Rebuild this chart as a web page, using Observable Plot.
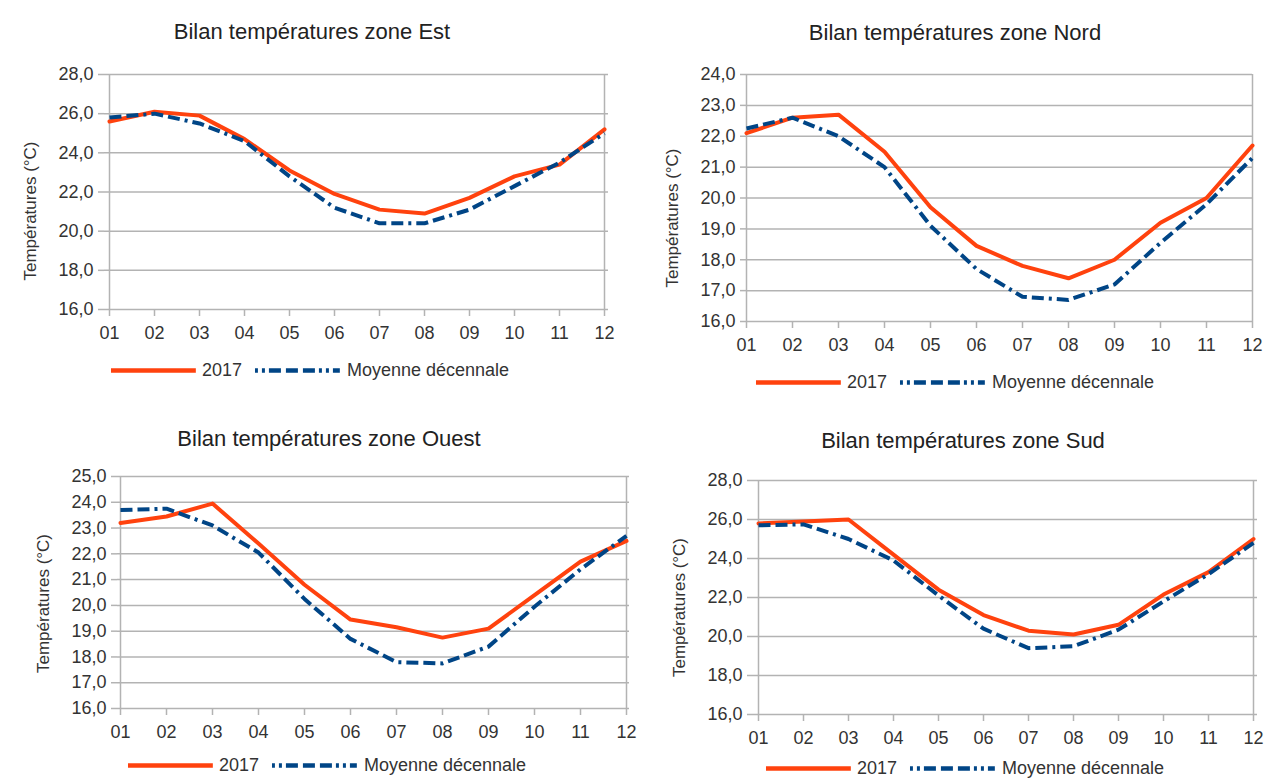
<!DOCTYPE html>
<html lang="fr">
<head>
<meta charset="utf-8">
<script src="https://cdn.jsdelivr.net/npm/d3@7"></script>
<script src="https://cdn.jsdelivr.net/npm/@observablehq/plot@0.6"></script>
<style>
  html, body { margin: 0; padding: 0; background: #fff; }
  #page { position: relative; width: 1276px; height: 778px; overflow: hidden; font-family: "Liberation Sans", Arial, sans-serif; }
  .title { position: absolute; transform: translate(-50%, -50%); font-size: 22px; color: #222; white-space: nowrap; }
  .legend { position: absolute; transform: translate(-50%, -50%); display: flex; align-items: center; font-size: 18px; color: #333; white-space: nowrap; }
  .legend svg { display: block; }
  .panel { position: absolute; }
</style>
</head>
<body>
<div id="page"></div>
<script>
// ---- data ----
const months = ["01","02","03","04","05","06","07","08","09","10","11","12"];
const seriesNames = ["2017", "Moyenne décennale"];

const est2017 = [25.6, 26.1, 25.9, 24.7, 23.1, 21.9, 21.1, 20.9, 21.7, 22.8, 23.4, 25.2];
const estMoy  = [25.8, 26.0, 25.5, 24.6, 22.8, 21.2, 20.4, 20.4, 21.1, 22.3, 23.5, 25.0];
const estTicks = [16, 18, 20, 22, 24, 26, 28];

const nord2017 = [22.1, 22.6, 22.7, 21.5, 19.7, 18.45, 17.8, 17.4, 18.0, 19.2, 20.0, 21.7];
const nordMoy  = [22.25, 22.6, 22.0, 21.0, 19.1, 17.7, 16.8, 16.7, 17.2, 18.55, 19.8, 21.3];
const nordTicks = [16, 17, 18, 19, 20, 21, 22, 23, 24];

const ouest2017 = [23.2, 23.45, 23.95, 22.4, 20.8, 19.45, 19.15, 18.75, 19.1, 20.4, 21.7, 22.5];
const ouestMoy  = [23.7, 23.75, 23.1, 22.05, 20.25, 18.7, 17.8, 17.75, 18.4, 19.95, 21.4, 22.7];
const ouestTicks = [16, 17, 18, 19, 20, 21, 22, 23, 24, 25];

const sud2017 = [25.8, 25.9, 26.0, 24.2, 22.4, 21.1, 20.3, 20.1, 20.6, 22.15, 23.3, 25.0];
const sudMoy  = [25.7, 25.75, 25.0, 23.9, 22.1, 20.4, 19.4, 19.5, 20.35, 21.8, 23.2, 24.8];
const sudTicks = [16, 18, 20, 22, 24, 26, 28];

const titles = ["Bilan températures zone Est", "Bilan températures zone Nord", "Bilan températures zone Ouest", "Bilan températures zone Sud"];
const yLabel = "Températures (°C)";

// ---- styles ----
const RED = "#ff420e";
const BLUE = "#004586";
const GRID = "#b3b3b3";
const LINE_DASH = "12,5,12,5,3,5";
const LEGEND_DASH = "3,4,3,4,12,5,12,5,12,4";
const fmt = d => d.toFixed(1).replace(".", ",");

const page = document.getElementById("page");

function panel(cfg) {
  const rows = months.map((m, i) => ({m, a: cfg.s2017[i], b: cfg.moy[i]}));
  const chart = Plot.plot({
    width: cfg.width,
    height: cfg.height,
    marginLeft: cfg.x0 - cfg.left,
    marginRight: cfg.left + cfg.width - cfg.x1,
    marginTop: cfg.yTop - cfg.top,
    marginBottom: cfg.top + cfg.height - cfg.yBot,
    style: {fontFamily: "'Liberation Sans', Arial, sans-serif", fontSize: "18px", color: "#333", background: "transparent", overflow: "visible"},
    x: {type: "point", domain: months, padding: 0},
    y: {domain: [cfg.ticks[0], cfg.ticks[cfg.ticks.length - 1]]},
    marks: [
      Plot.ruleY(cfg.ticks, {stroke: GRID, strokeWidth: 1.5}),
      Plot.ruleX([months[0], months[months.length - 1]], {stroke: GRID, strokeWidth: 1.5}),
      Plot.axisY(cfg.ticks, {tickSize: 6, tickPadding: 5, tickFormat: fmt, stroke: GRID, strokeWidth: 1.5, label: null, fontSize: 18}),
      Plot.axisX({tickSize: 7, tickPadding: 10, stroke: GRID, strokeWidth: 1.5, label: null, fontSize: 18}),
      Plot.text([yLabel], {frameAnchor: "left", textAnchor: "middle", rotate: -90, dx: -74, dy: cfg.labelDy, fontSize: 17, fill: "#333"}),
      Plot.line(rows, {x: "m", y: "a", stroke: RED, strokeWidth: 4, strokeLinejoin: "round"}),
      Plot.line(rows, {x: "m", y: "b", stroke: BLUE, strokeWidth: 4, strokeDasharray: LINE_DASH, strokeLinecap: "butt", strokeLinejoin: "round"})
    ]
  });
  const wrap = document.createElement("div");
  wrap.className = "panel";
  wrap.style.left = cfg.left + "px";
  wrap.style.top = cfg.top + "px";
  wrap.appendChild(chart);
  page.appendChild(wrap);

  const t = document.createElement("div");
  t.className = "title";
  t.textContent = cfg.title;
  t.style.left = cfg.tx + "px";
  t.style.top = cfg.ty + "px";
  page.appendChild(t);

  const lg = document.createElement("div");
  lg.className = "legend";
  lg.style.left = cfg.lx + "px";
  lg.style.top = cfg.ly + "px";
  lg.innerHTML =
    `<svg width="85" height="10"><line x1="0" x2="85" y1="5" y2="5" stroke="${RED}" stroke-width="4.5"/></svg>` +
    `<span style="margin:0 13px 0 6px">${seriesNames[0]}</span>` +
    `<svg width="85" height="10"><line x1="0" x2="85" y1="5" y2="5" stroke="${BLUE}" stroke-width="4.5" stroke-dasharray="${LEGEND_DASH}"/></svg>` +
    `<span style="margin-left:7px">${seriesNames[1]}</span>`;
  page.appendChild(lg);
}

panel({title: titles[0], s2017: est2017, moy: estMoy, ticks: estTicks,
  left: 0, top: 55, width: 640, height: 300, x0: 104, x1: 608, yTop: 74, yBot: 309,
  tx: 312, ty: 32, lx: 310, ly: 370, labelDy: 19});
panel({title: titles[1], s2017: nord2017, moy: nordMoy, ticks: nordTicks,
  left: 640, top: 55, width: 636, height: 310, x0: 746, x1: 1252, yTop: 74, yBot: 321,
  tx: 955, ty: 33, lx: 955, ly: 382, labelDy: 20});
panel({title: titles[2], s2017: ouest2017, moy: ouestMoy, ticks: ouestTicks,
  left: 0, top: 460, width: 640, height: 290, x0: 117, x1: 629, yTop: 476, yBot: 708,
  tx: 329, ty: 439, lx: 327, ly: 765, labelDy: 11});
panel({title: titles[3], s2017: sud2017, moy: sudMoy, ticks: sudTicks,
  left: 640, top: 460, width: 636, height: 290, x0: 753, x1: 1257, yTop: 480, yBot: 714,
  tx: 963, ty: 441, lx: 965, ly: 768, labelDy: 10});
</script>
</body>
</html>
